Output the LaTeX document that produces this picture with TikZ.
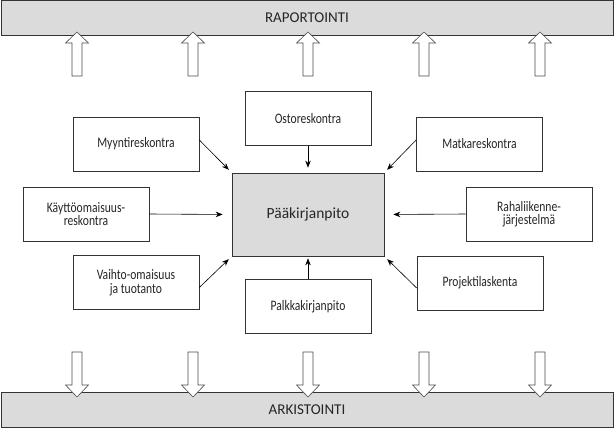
\documentclass[tikz,border=0pt]{standalone}
\usepackage{fontspec}
\setmainfont{Carlito}
\newfontfamily\condfont[FakeStretch=0.8]{Carlito}
\usetikzlibrary{positioning}
\usetikzlibrary{arrows.meta}

\begin{document}
\begin{tikzpicture}[x=1pt,y=-1pt,
  box/.style={draw=black!80,line width=0.7pt,fill=white,minimum width=126pt,minimum height=54pt,align=center,font=\condfont\fontsize{14.5}{13.5}\selectfont,text=black!85},
  mainbox/.style={draw=black!80,line width=0.7pt,fill=black!14,minimum width=152pt,minimum height=83pt,font=\fontsize{15.5}{18}\selectfont,text=black!85},
  band/.style={draw=black!80,line width=0.8pt,fill=black!14,minimum width=612pt,minimum height=35pt,font=\fontsize{15}{18}\selectfont,text=black!85},
  feed/.style={-{Stealth[length=7pt,width=5.5pt]},line width=0.6pt},
  hollow/.style={draw=black!70,line width=0.6pt,fill=white}]
\useasboundingbox (0,0) rectangle (616,429);

% bands
\node[band] (raportointi) at (307,18) {RAPORTOINTI};
\node[band] (arkistointi) at (307,410) {ARKISTOINTI};

% hollow arrows up and down
\foreach \x in {77,193,308,424,540}{
\draw[hollow] (\x-5,76) -- (\x-5,43) -- (\x-11.5,43) -- (\x,32) -- (\x+11.5,43) -- (\x+5,43) -- (\x+5,76) -- cycle;
\draw[hollow] (\x-5,352) -- (\x-5,385) -- (\x-11.5,385) -- (\x,397) -- (\x+11.5,385) -- (\x+5,385) -- (\x+5,352) -- cycle;
}

% ledgers
\node[mainbox] (paa) at (308,214.5) {Pääkirjanpito};
\node[box] (myynti) at (136,144) {Myyntireskontra};
\node[box] (osto) at (308,118.5) {Ostoreskontra};
\node[box] (matka) at (479.5,144) {Matkareskontra};
\node[box] (kaytto) at (86,214) {Käyttöomaisuus-\\reskontra};
\node[box] (raha) at (529,214) {Rahaliikenne-\\järjestelmä};
\node[box] (vaihto) at (136,282.5) {Vaihto-omaisuus\\ja tuotanto};
\node[box] (palkka) at (308,306.5) {Palkkakirjanpito};
\node[box] (projekti) at (480,283) {Projektilaskenta};

\draw[feed,shorten >=4pt] ([yshift=4pt]myynti.east) -- (paa.north west);
\draw[feed,shorten >=5pt] (osto.south) -- (paa.north);
\draw[feed,shorten >=4pt] ([yshift=4pt]matka.west) -- (paa.north east);
\draw[feed,shorten >=9pt] (kaytto.east) -- (paa.west);
\draw[feed,shorten >=9pt] (raha.west) -- (paa.east);
\draw[feed,shorten >=4pt] ([yshift=-5pt]vaihto.east) -- (paa.south west);
\draw[feed,shorten >=2pt] (palkka.north) -- (paa.south);
\draw[feed,shorten >=4pt] ([yshift=-5pt]projekti.west) -- (paa.south east);

\end{tikzpicture}
\end{document}
